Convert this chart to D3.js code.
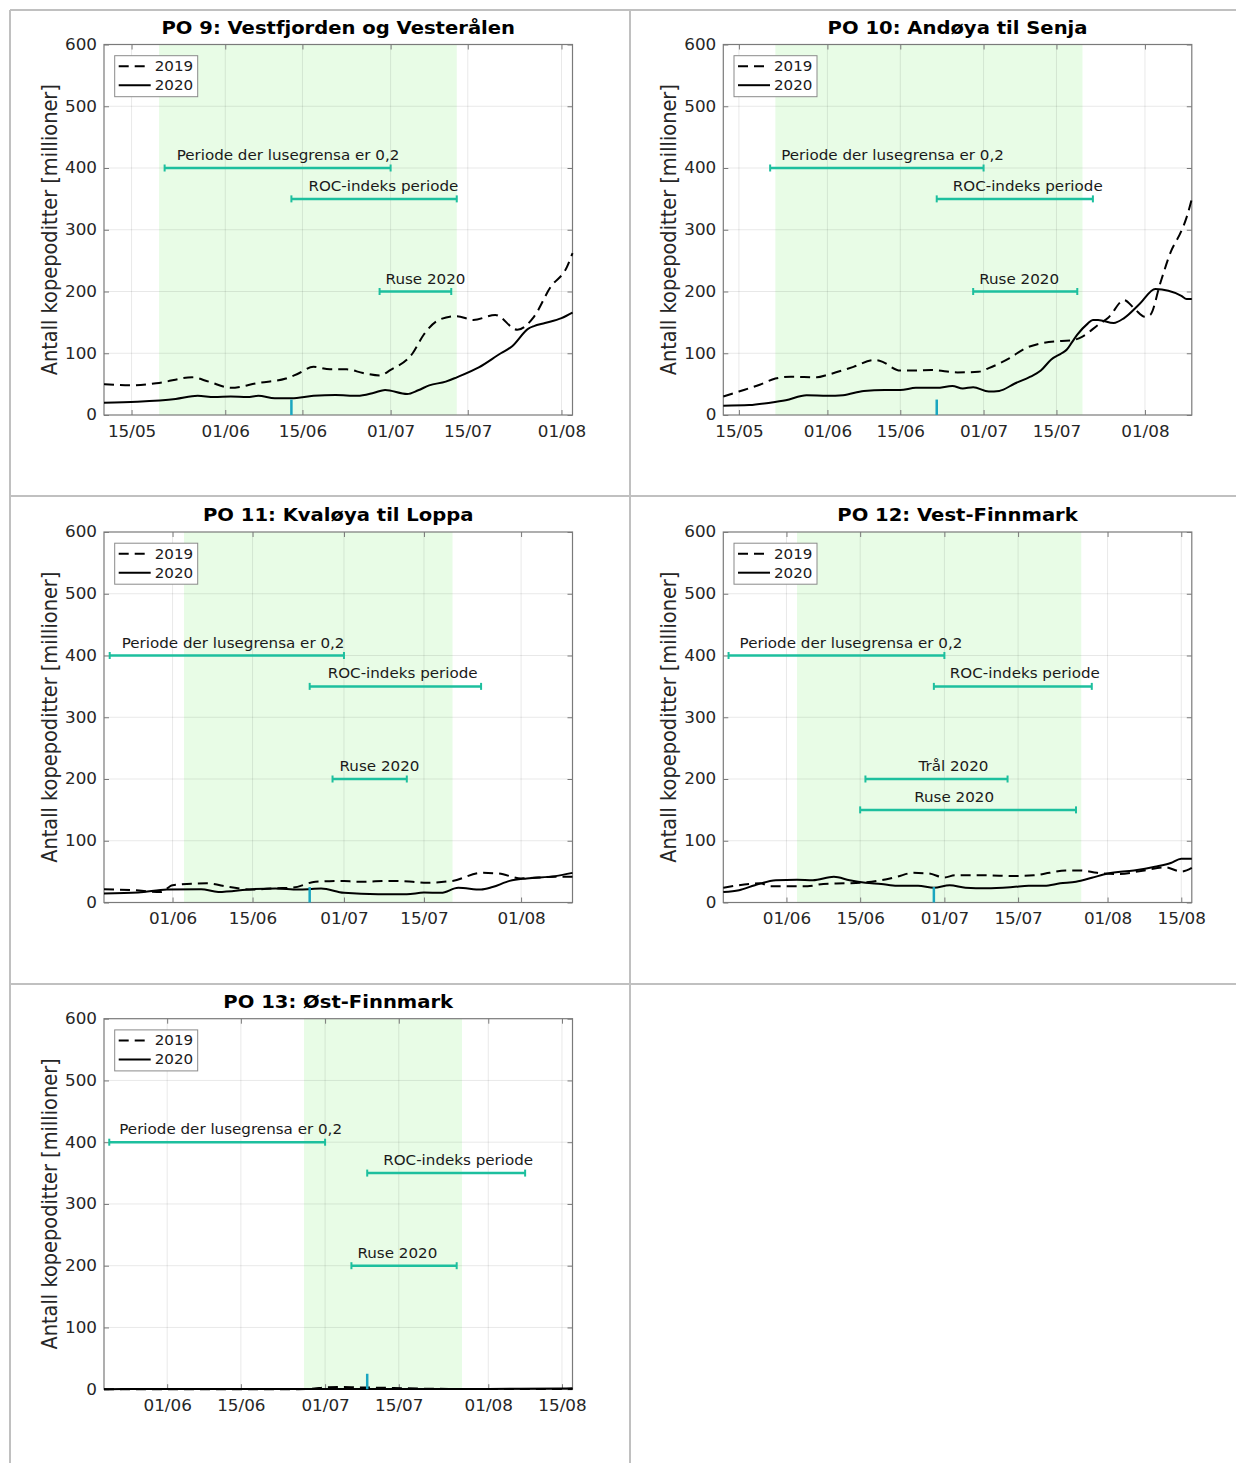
<!DOCTYPE html>
<html>
<head>
<meta charset="utf-8">
<script src="https://cdn.jsdelivr.net/npm/d3@7"></script>
<style>
  body { margin: 0; background: #fff; }
  svg { display: block; font-family: "DejaVu Sans", sans-serif; }
</style>
</head>
<body>
<svg id="fig" width="1236" height="1463"></svg>
<script>
// ---- data ----
var titles = ["PO 9: Vestfjorden og Vesterålen", "PO 10: Andøya til Senja",
  "PO 11: Kvaløya til Loppa", "PO 12: Vest-Finnmark", "PO 13: Øst-Finnmark"];
var years = ["2019", "2020"];
var yTicks = [0, 100, 200, 300, 400, 500, 600];

var xRange = [["10/05", "03/08"], ["12/05", "10/08"], ["20/05", "10/08"], ["20/05", "17/08"], ["20/05", "17/08"]];
var xTicks = [
  ["15/05", "01/06", "15/06", "01/07", "15/07", "01/08"],
  ["15/05", "01/06", "15/06", "01/07", "15/07", "01/08"],
  ["01/06", "15/06", "01/07", "15/07", "01/08"],
  ["01/06", "15/06", "01/07", "15/07", "01/08", "15/08"],
  ["01/06", "15/06", "01/07", "15/07", "01/08", "15/08"]
];
var shade = [["20/05", "13/07"], ["22/05", "20/07"], ["03/06", "20/07"], ["03/06", "27/07"], ["27/06", "27/07"]];
var markDates = ["13/06", "22/06", "25/06", "29/06", "09/07"];
var markValue = 25;

var po9Bars = [["Periode der lusegrensa er 0,2", "21/05", "01/07", 400], ["ROC-indeks periode", "13/06", "13/07", 350], ["Ruse 2020", "29/06", "12/07", 200]];
var po10Bars = [["Periode der lusegrensa er 0,2", "21/05", "01/07", 400], ["ROC-indeks periode", "22/06", "22/07", 350], ["Ruse 2020", "29/06", "19/07", 200]];
var po11Bars = [["Periode der lusegrensa er 0,2", "21/05", "01/07", 400], ["ROC-indeks periode", "25/06", "25/07", 350], ["Ruse 2020", "29/06", "12/07", 200]];
var po12Bars = [["Periode der lusegrensa er 0,2", "21/05", "01/07", 400], ["ROC-indeks periode", "29/06", "29/07", 350], ["Trål 2020", "16/06", "13/07", 200], ["Ruse 2020", "15/06", "26/07", 150]];
var po13Bars = [["Periode der lusegrensa er 0,2", "21/05", "01/07", 400], ["ROC-indeks periode", "09/07", "08/08", 350], ["Ruse 2020", "06/07", "26/07", 200]];

var po9_2019 = [["10/05",50],["15/05",48],["20/05",52],["26/05",61],["29/05",54],["02/06",44],["07/06",52],["12/06",59],["14/06",66],["17/06",78],["20/06",74],["23/06",74],["26/06",68],["29/06",64],["01/07",73],["05/07",100],["07/07",130],["10/07",155],["13/07",160],["16/07",154],["20/07",162],["24/07",138],["27/07",159],["30/07",207],["02/08",240],["03/08",262]];
var po9_2020 = [["10/05",20],["16/05",21.6],["23/05",26],["27/05",31],["30/05",29],["02/06",30],["05/06",29],["07/06",31],["10/06",27],["13/06",27],["17/06",31],["21/06",32.5],["25/06",31],["28/06",36],["30/06",40.5],["04/07",34],["06/07",40],["08/07",48],["11/07",54],["13/07",61],["17/07",77],["21/07",100],["23/07",111],["26/07",140],["27/07",144],["29/07",149],["01/08",157],["03/08",166]];

var po10_2019 = [["12/05",30],["15/05",38],["19/05",49],["22/05",59],["25/05",62],["30/05",61],["01/06",65],["06/06",78],["10/06",89],["11/06",88],["15/06",72],["18/06",72],["21/06",73],["26/06",69],["30/06",70],["02/07",76],["06/07",92],["09/07",108],["12/07",116],["16/07",120],["18/07",121],["20/07",127],["23/07",146],["25/07",158],["28/07",186],["30/07",172],["01/08",159],["02/08",162],["04/08",215],["06/08",265],["08/08",298],["09/08",320],["10/08",350]];
var po10_2020 = [["12/05",15],["17/05",16],["21/05",20],["24/05",24],["28/05",32],["01/06",31],["04/06",32],["08/06",39],["12/06",40.5],["15/06",40.5],["18/06",44],["22/06",44],["25/06",47],["27/06",43],["29/06",45],["02/07",38],["04/07",39],["07/07",51],["10/07",62],["12/07",72],["14/07",90],["16/07",100],["17/07",106],["18/07",118],["19/07",130],["21/07",148],["22/07",154],["23/07",154],["26/07",149],["28/07",157],["31/07",180],["03/08",204],["08/08",193],["09/08",188],["10/08",188]];

var po11_2019 = [["20/05",21.6],["25/05",20],["30/05",17],["01/06",28],["07/06",31],["11/06",25],["15/06",21],["19/06",23],["22/06",24],["26/06",33.5],["01/07",35],["03/07",33.5],["10/07",35],["13/07",33.5],["15/07",32],["20/07",35],["25/07",48],["28/07",47],["01/08",39],["07/08",41.6],["10/08",41.6]];
var po11_2020 = [["20/05",14.6],["26/05",16],["31/05",21],["06/06",21.6],["09/06",17],["15/06",21.6],["19/06",22.7],["23/06",21],["25/06",21.6],["27/06",22.7],["01/07",15.7],["07/07",13.5],["12/07",13.5],["15/07",16],["18/07",15.7],["21/07",23.8],["25/07",21],["27/07",25],["30/07",35],["02/08",39],["07/08",42.7],["10/08",48]];

var po12_2019 = [["20/05",24],["25/05",30],["27/05",31],["29/05",26.5],["01/06",26.5],["05/06",26.5],["08/06",30],["12/06",31],["15/06",32],["19/06",36],["22/06",41.6],["25/06",48],["28/06",47],["01/07",40.5],["03/07",44],["09/07",44],["14/07",43],["18/07",44],["21/07",48],["24/07",52],["27/07",52],["30/07",48],["03/08",46],["08/08",52],["12/08",57],["15/08",50],["17/08",56]];
var po12_2020 = [["20/05",17],["23/05",20],["26/05",28],["30/05",36],["03/06",37],["06/06",36],["10/06",41.6],["13/06",36],["16/06",32],["19/06",30],["22/06",27],["26/06",27],["29/06",24],["02/07",28],["05/07",24],["09/07",23],["14/07",25],["17/07",27],["20/07",27],["23/07",31],["26/07",33.5],["29/07",40],["01/08",47],["06/08",52],["10/08",58],["13/08",64],["15/08",71],["17/08",71]];

var po13_2019 = [["20/05",0],["26/06",0],["29/06",1],["01/07",3],["04/07",3.5],["07/07",3],["10/07",2.5],["14/07",2],["19/07",1],["25/07",0.5],["17/08",0.5]];
var po13_2020 = [["20/05",0],["01/06",0.5],["15/06",0.5],["01/07",0.3],["15/07",0.3],["01/08",0.5],["15/08",1],["17/08",1.5]];

var series2019 = [po9_2019, po10_2019, po11_2019, po12_2019, po13_2019];
var series2020 = [po9_2020, po10_2020, po11_2020, po12_2020, po13_2020];
var bars = [po9Bars, po10Bars, po11Bars, po12Bars, po13Bars];

// ---- layout ----
var boxes = [[104, 44.5], [723.3, 44.5], [104, 532], [723.3, 532], [104, 1018.7]];
var W = 468.5, H = 370.5;
var labelDx = [[12, 17, 6], [11, 16, 6], [12, 18, 7], [11, 16, 53, 54], [10, 16, 6]];
var SX = 1.12; // the original figure is slightly stretched sideways

var parse = d3.timeParse("%d/%m/%Y");
function day(s) { return parse(s + "/2020"); }

var svg = d3.select("#fig");

function stext(g, x, y, str, size, anchor, weight) {
  return g.append("text")
    .attr("transform", "translate(" + x + "," + y + ") scale(" + SX + ",1)")
    .attr("text-anchor", anchor || "start")
    .attr("font-size", size)
    .attr("font-weight", weight || "normal")
    .attr("fill", "#1a1a1a")
    .text(str);
}

// table lines around the panels
var tbl = svg.append("g").attr("stroke", "#c0c0c0").attr("stroke-width", 2);
[[10, 10, 1236, 10], [10, 496, 1236, 496], [10, 984, 1236, 984], [10, 10, 10, 1463], [630, 10, 630, 1463]]
  .forEach(function(l) {
    tbl.append("line").attr("x1", l[0]).attr("y1", l[1]).attr("x2", l[2]).attr("y2", l[3]);
  });

var teal = "#1dbf9e", cyan = "#1aa6c0", axisCol = "#7a7a7a";

function drawPanel(i) {
  var left = boxes[i][0], top = boxes[i][1];
  var x = d3.scaleTime().domain([day(xRange[i][0]), day(xRange[i][1])]).range([left, left + W]);
  var y = d3.scaleLinear().domain([0, 600]).range([top + H, top]);
  var g = svg.append("g");

  // green period
  var s0 = x(day(shade[i][0])), s1 = x(day(shade[i][1]));
  g.append("rect").attr("x", s0).attr("y", top).attr("width", s1 - s0).attr("height", H)
    .attr("fill", "#e8fce6");

  // grid
  var tv = xTicks[i].map(day);
  g.selectAll(".vg").data(tv).enter().append("line")
    .attr("x1", function(d) { return x(d); }).attr("x2", function(d) { return x(d); })
    .attr("y1", top).attr("y2", top + H)
    .attr("stroke", "#000").attr("stroke-opacity", 0.09);
  g.selectAll(".hg").data(yTicks.slice(1, -1)).enter().append("line")
    .attr("x1", left).attr("x2", left + W)
    .attr("y1", function(d) { return y(d); }).attr("y2", function(d) { return y(d); })
    .attr("stroke", "#000").attr("stroke-opacity", 0.09);

  // axes
  var fmt = d3.timeFormat("%d/%m");
  var ax = g.append("g").attr("transform", "translate(0," + (top + H) + ")")
    .call(d3.axisBottom(x).tickValues(tv).tickFormat(fmt).tickSizeInner(-5).tickSizeOuter(0).tickPadding(11));
  var axT = g.append("g").attr("transform", "translate(0," + top + ")")
    .call(d3.axisTop(x).tickValues(tv).tickFormat("").tickSizeInner(-5).tickSizeOuter(0));
  var ay = g.append("g").attr("transform", "translate(" + left + ",0)")
    .call(d3.axisLeft(y).tickValues(yTicks).tickSizeInner(-5).tickSizeOuter(0).tickPadding(7));
  var ayR = g.append("g").attr("transform", "translate(" + (left + W) + ",0)")
    .call(d3.axisRight(y).tickValues(yTicks).tickFormat("").tickSizeInner(-5).tickSizeOuter(0));
  [ax, axT, ay, ayR].forEach(function(a) {
    a.select(".domain").remove();
    a.selectAll("line").attr("stroke", axisCol);
    a.selectAll("text").attr("font-size", 15).attr("fill", "#262626")
      .attr("font-family", "DejaVu Sans").attr("transform", "scale(" + SX + ",1)");
  });
  ay.selectAll("text").attr("x", -7 / SX);
  g.append("rect").attr("x", left).attr("y", top).attr("width", W).attr("height", H)
    .attr("fill", "none").attr("stroke", axisCol).attr("stroke-width", 1.2);

  // period bars
  bars[i].forEach(function(b, k) {
    var x0 = x(day(b[1])), x1 = x(day(b[2])), yy = y(b[3]);
    var bg = g.append("g").attr("stroke", teal).attr("stroke-width", 2.5);
    bg.append("line").attr("x1", x0).attr("x2", x1).attr("y1", yy).attr("y2", yy);
    bg.append("line").attr("x1", x0).attr("x2", x0).attr("y1", yy - 3.5).attr("y2", yy + 3.5).attr("stroke-width", 2);
    bg.append("line").attr("x1", x1).attr("x2", x1).attr("y1", yy - 3.5).attr("y2", yy + 3.5).attr("stroke-width", 2);
    stext(g, x0 + labelDx[i][k], yy - 8, b[0], 13.5);
  });

  // lines
  var line = d3.line().curve(d3.curveMonotoneX)
    .x(function(d) { return x(day(d[0])); })
    .y(function(d) { return y(d[1]); });
  g.append("path").datum(series2019[i]).attr("d", line)
    .attr("fill", "none").attr("stroke", "#000").attr("stroke-width", 2).attr("stroke-dasharray", "10,6");
  g.append("path").datum(series2020[i]).attr("d", line)
    .attr("fill", "none").attr("stroke", "#000").attr("stroke-width", 2);

  // ROC start marker
  var mx = x(day(markDates[i]));
  g.append("line").attr("x1", mx).attr("x2", mx).attr("y1", y(0)).attr("y2", y(markValue))
    .attr("stroke", cyan).attr("stroke-width", 2.5);

  // legend
  var lg = g.append("g").attr("transform", "translate(" + (left + 10.7) + "," + (top + 11.2) + ")");
  lg.append("rect").attr("width", 83).attr("height", 41).attr("fill", "#fff")
    .attr("stroke", "#8a8a8a").attr("stroke-width", 1);
  years.forEach(function(yr, k) {
    var ly = 10.5 + k * 19;
    lg.append("line").attr("x1", 4).attr("x2", 36).attr("y1", ly).attr("y2", ly)
      .attr("stroke", "#000").attr("stroke-width", 2)
      .attr("stroke-dasharray", k === 0 ? "10,6" : null);
    stext(lg, 40, ly + 5, yr, 13.5);
  });

  // title and y label
  stext(g, left + W / 2, top - 11, titles[i], 17.5, "middle", "bold").attr("fill", "#000");
  g.append("text")
    .attr("transform", "translate(" + (left - 47.5) + "," + (top + H / 2) + ") scale(" + SX + ",1) rotate(-90)")
    .attr("text-anchor", "middle").attr("font-size", 19.4).attr("fill", "#262626")
    .text("Antall kopepoditter [millioner]");
}

for (var i = 0; i < titles.length; i++) drawPanel(i);
</script>
</body>
</html>
